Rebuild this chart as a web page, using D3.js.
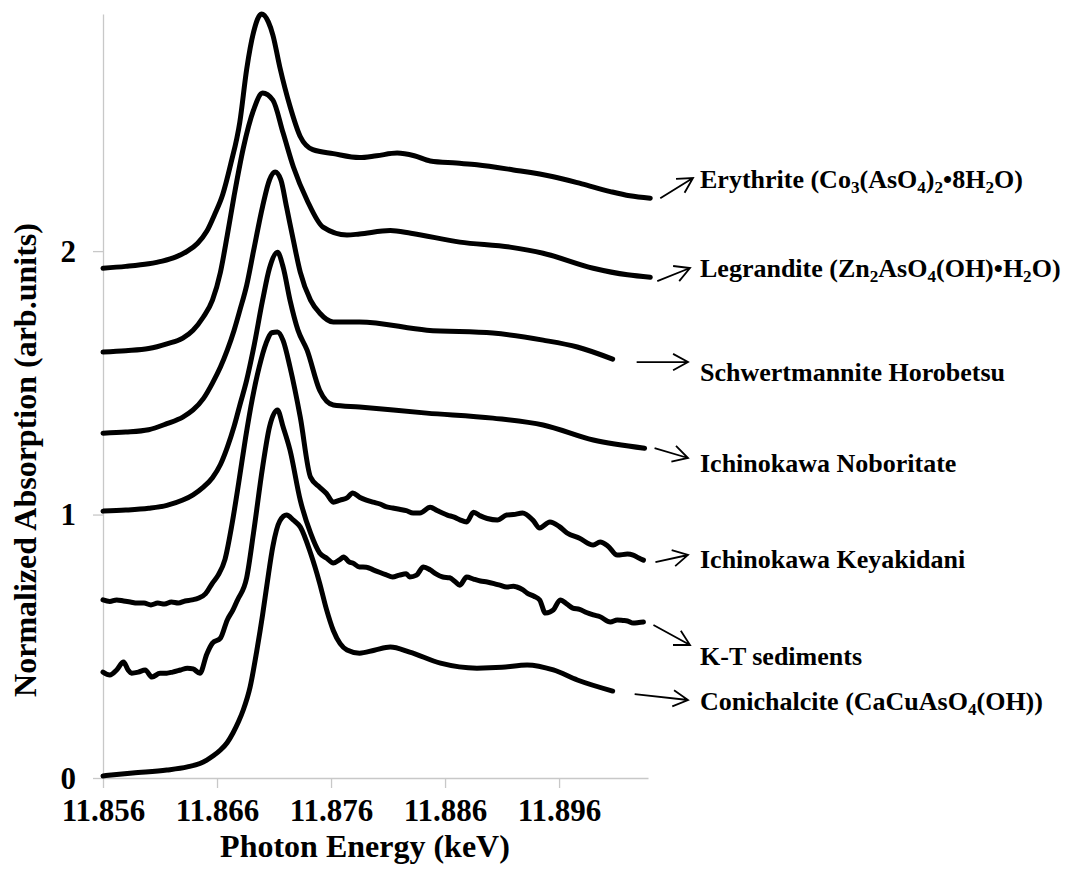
<!DOCTYPE html>
<html>
  <head>
    <meta charset="utf-8">
    <title>As K-edge XANES</title>
    <script src="https://d3js.org/d3.v7.min.js"></script>
    <style>
      body { margin: 0; background-color: white; }
      text { font-family: "Liberation Serif", "Times New Roman", serif; font-weight: bold; fill: black; }
    </style>
  </head>
  <body>
    <svg id="canvas" width="1075" height="869"></svg>

    <script>
      // photon energy (keV), normalized absorption (stacked with offsets as in the figure)
      const erythrite = [
        [11.8560, 1.935], [11.8580, 1.942], [11.8600, 1.952], [11.8612, 1.962], [11.8624, 1.978],
        [11.8634, 2.000], [11.8643, 2.030], [11.8651, 2.075], [11.8658, 2.140], [11.8665, 2.215],
        [11.8672, 2.330], [11.8680, 2.490], [11.8686, 2.690], [11.8692, 2.830], [11.8699, 2.900],
        [11.8705, 2.870], [11.8709, 2.820], [11.8715, 2.700], [11.8724, 2.550], [11.8733, 2.435],
        [11.8744, 2.385], [11.8762, 2.370], [11.8785, 2.355], [11.8800, 2.362], [11.8818, 2.372],
        [11.8833, 2.362], [11.8847, 2.342], [11.8870, 2.334], [11.8888, 2.328], [11.8920, 2.308],
        [11.8955, 2.282], [11.8980, 2.255], [11.9005, 2.226], [11.9022, 2.210], [11.9040, 2.201]
      ]
      const legrandite = [
        [11.8560, 1.617], [11.8580, 1.622], [11.8600, 1.630], [11.8616, 1.648], [11.8630, 1.670],
        [11.8639, 1.700], [11.8648, 1.750], [11.8656, 1.814], [11.8663, 1.920], [11.8669, 2.060],
        [11.8675, 2.210], [11.8683, 2.390], [11.8692, 2.535], [11.8700, 2.600], [11.8709, 2.573],
        [11.8718, 2.448], [11.8727, 2.319], [11.8739, 2.193], [11.8753, 2.091], [11.8774, 2.061],
        [11.8785, 2.065], [11.8812, 2.078], [11.8830, 2.068], [11.8873, 2.034], [11.8917, 2.015],
        [11.8946, 1.992], [11.8990, 1.935], [11.9020, 1.910], [11.9040, 1.901]
      ]
      const schwertmannite = [
        [11.8560, 1.309], [11.8580, 1.313], [11.8600, 1.322], [11.8616, 1.345], [11.8630, 1.370],
        [11.8639, 1.397], [11.8648, 1.440], [11.8656, 1.499], [11.8663, 1.560], [11.8669, 1.624],
        [11.8675, 1.700], [11.8680, 1.775], [11.8686, 1.870], [11.8692, 2.000], [11.8700, 2.170],
        [11.8706, 2.270], [11.8711, 2.300], [11.8716, 2.270], [11.8721, 2.167], [11.8727, 2.040],
        [11.8733, 1.920], [11.8742, 1.814], [11.8750, 1.765], [11.8762, 1.731], [11.8785, 1.731],
        [11.8844, 1.700], [11.8902, 1.689], [11.8946, 1.662], [11.8976, 1.636], [11.9007, 1.590]
      ]
      const noboritate = [
        [11.8560, 1.013], [11.8580, 1.017], [11.8600, 1.024], [11.8616, 1.035], [11.8630, 1.055],
        [11.8639, 1.075], [11.8648, 1.104], [11.8656, 1.140], [11.8663, 1.190], [11.8669, 1.255],
        [11.8675, 1.335], [11.8680, 1.415], [11.8686, 1.510], [11.8692, 1.630], [11.8700, 1.814],
        [11.8706, 1.935], [11.8713, 1.996], [11.8718, 1.939], [11.8724, 1.814], [11.8731, 1.700],
        [11.8739, 1.624], [11.8750, 1.472], [11.8762, 1.416], [11.8785, 1.408], [11.8844, 1.385],
        [11.8902, 1.366], [11.8946, 1.340], [11.8990, 1.283], [11.9035, 1.252]
      ]
      const keyakidani = [
        [11.8560, 0.676], [11.8566, 0.670], [11.8572, 0.676], [11.8578, 0.672], [11.8584, 0.668],
        [11.8590, 0.664], [11.8596, 0.664], [11.8602, 0.657], [11.8608, 0.664], [11.8614, 0.660],
        [11.8620, 0.668], [11.8626, 0.664], [11.8632, 0.672], [11.8638, 0.676], [11.8644, 0.683],
        [11.8650, 0.700], [11.8656, 0.740], [11.8661, 0.770], [11.8667, 0.830], [11.8673, 0.960],
        [11.8679, 1.120], [11.8685, 1.290], [11.8691, 1.440], [11.8697, 1.560], [11.8703, 1.650],
        [11.8708, 1.690], [11.8713, 1.693], [11.8718, 1.660], [11.8724, 1.560], [11.8733, 1.370],
        [11.8742, 1.142], [11.8750, 1.104], [11.8756, 1.080], [11.8762, 1.047], [11.8768, 1.055],
        [11.8774, 1.063], [11.8779, 1.082], [11.8785, 1.066], [11.8791, 1.055], [11.8797, 1.047],
        [11.8803, 1.040], [11.8808, 1.030], [11.8814, 1.025], [11.8820, 1.020], [11.8826, 1.015],
        [11.8832, 1.006], [11.8838, 1.006], [11.8847, 1.028], [11.8853, 1.015], [11.8862, 0.998],
        [11.8868, 0.990], [11.8873, 0.980], [11.8879, 0.972], [11.8885, 1.009], [11.8891, 0.995],
        [11.8897, 0.985], [11.8906, 0.979], [11.8914, 0.998], [11.8920, 1.000], [11.8928, 1.006],
        [11.8937, 0.979], [11.8943, 0.949], [11.8952, 0.972], [11.8960, 0.955], [11.8967, 0.930],
        [11.8978, 0.910], [11.8990, 0.884], [11.8996, 0.896], [11.9003, 0.880], [11.9011, 0.846],
        [11.9020, 0.850], [11.9025, 0.846], [11.9030, 0.835], [11.9034, 0.827]
      ]
      const ktSediments = [
        [11.8560, 0.402], [11.8566, 0.391], [11.8572, 0.410], [11.8578, 0.440], [11.8582, 0.410],
        [11.8585, 0.398], [11.8591, 0.402], [11.8597, 0.410], [11.8603, 0.383], [11.8610, 0.398],
        [11.8616, 0.398], [11.8621, 0.402], [11.8628, 0.410], [11.8634, 0.417], [11.8639, 0.414],
        [11.8645, 0.398], [11.8651, 0.470], [11.8656, 0.512], [11.8663, 0.531], [11.8669, 0.600],
        [11.8674, 0.638], [11.8678, 0.676], [11.8686, 0.760], [11.8692, 0.930], [11.8700, 1.180],
        [11.8706, 1.332], [11.8713, 1.397], [11.8718, 1.332], [11.8724, 1.245], [11.8733, 1.055],
        [11.8742, 0.930], [11.8750, 0.854], [11.8756, 0.835], [11.8762, 0.816], [11.8768, 0.830],
        [11.8771, 0.839], [11.8776, 0.820], [11.8779, 0.816], [11.8785, 0.801], [11.8791, 0.800],
        [11.8797, 0.790], [11.8803, 0.780], [11.8808, 0.772], [11.8814, 0.763], [11.8820, 0.770],
        [11.8826, 0.775], [11.8829, 0.763], [11.8835, 0.770], [11.8841, 0.801], [11.8847, 0.790],
        [11.8852, 0.775], [11.8858, 0.763], [11.8864, 0.760], [11.8869, 0.745], [11.8873, 0.732],
        [11.8879, 0.763], [11.8885, 0.755], [11.8891, 0.748], [11.8897, 0.744], [11.8903, 0.738],
        [11.8908, 0.732], [11.8914, 0.725], [11.8920, 0.728], [11.8923, 0.725], [11.8928, 0.715],
        [11.8932, 0.702], [11.8938, 0.690], [11.8943, 0.676], [11.8948, 0.626], [11.8952, 0.630],
        [11.8955, 0.638], [11.8961, 0.676], [11.8967, 0.660], [11.8972, 0.645], [11.8978, 0.640],
        [11.8984, 0.628], [11.8990, 0.619], [11.8996, 0.612], [11.9005, 0.592], [11.9011, 0.600],
        [11.9016, 0.598], [11.9020, 0.596], [11.9025, 0.588], [11.9030, 0.590], [11.9034, 0.592]
      ]
      const conichalcite = [
        [11.8560, 0.008], [11.8586, 0.019], [11.8616, 0.030], [11.8634, 0.042], [11.8645, 0.055],
        [11.8651, 0.068], [11.8657, 0.085], [11.8663, 0.106], [11.8669, 0.135], [11.8674, 0.171],
        [11.8679, 0.215], [11.8683, 0.258], [11.8689, 0.345], [11.8695, 0.486], [11.8700, 0.620],
        [11.8704, 0.740], [11.8709, 0.880], [11.8715, 0.975], [11.8721, 0.998], [11.8727, 0.979],
        [11.8733, 0.953], [11.8742, 0.854], [11.8750, 0.740], [11.8756, 0.640], [11.8762, 0.560],
        [11.8768, 0.510], [11.8774, 0.486], [11.8785, 0.474], [11.8798, 0.485], [11.8812, 0.497],
        [11.8829, 0.478], [11.8856, 0.436], [11.8888, 0.417], [11.8910, 0.420], [11.8932, 0.429],
        [11.8955, 0.410], [11.8976, 0.372], [11.9007, 0.330]
      ]

      const series = [erythrite, legrandite, schwertmannite, noboritate, keyakidani, ktSediments, conichalcite]
      // "_n" marks a subscript digit
      const seriesNames = [
        'Erythrite (Co_3(AsO_4)_2•8H_2O)',
        'Legrandite (Zn_2AsO_4(OH)•H_2O)',
        'Schwertmannite Horobetsu',
        'Ichinokawa Noboritate',
        'Ichinokawa Keyakidani',
        'K-T sediments',
        'Conichalcite (CaCuAsO_4(OH))'
      ]
      const xTicks = [11.856, 11.866, 11.876, 11.886, 11.896]
      const yTicks = [0, 1, 2]

      // annotation layout: arrow start offset from the curve end, arrow tip, label baseline
      const labelLayout = [
        { dx: 10, dy: 0, tip: [693, 178], base: 188 },
        { dx: 7, dy: 4, tip: [690, 268], base: 277 },
        { dx: 24, dy: 3, tip: [688, 362], base: 381 },
        { dx: 10, dy: 0, tip: [688, 458], base: 472 },
        { dx: 12, dy: 2, tip: [688, 555], base: 568 },
        { dx: 10, dy: 3, tip: [690, 645], base: 665 },
        { dx: 22, dy: 3, tip: [688, 700], base: 710 }
      ]

      const svg = d3.select('#canvas')
      const plotLeft = 103, plotRight = 648, plotTop = 14, plotBottom = 778

      const x = d3.scaleLinear().domain([11.856, 11.9038]).range([plotLeft, plotRight])
      const y = d3.scaleLinear().domain([0, 2.9]).range([plotBottom, plotTop])

      // axes
      const xAxis = svg.append('g')
        .attr('transform', `translate(0, ${plotBottom})`)
        .call(d3.axisBottom(x).tickValues(xTicks).tickFormat(d3.format('.3f')).tickSize(10).tickSizeOuter(0))
      const yAxis = svg.append('g')
        .attr('transform', `translate(${plotLeft}, 0)`)
        .call(d3.axisLeft(y).tickValues(yTicks).tickFormat(d3.format('d')).tickSize(10).tickSizeOuter(0))

      svg.selectAll('.domain, .tick line')
        .attr('stroke', '#c8c8c8')
        .attr('stroke-width', 1.3)

      xAxis.selectAll('.tick text')
        .attr('font-family', null)
        .attr('font-size', 31)
        .attr('y', 43)
        .attr('dy', 0)
      yAxis.selectAll('.tick text')
        .attr('font-family', null)
        .attr('font-size', 31)
        .attr('x', -27)
        .attr('dy', 10)
      svg.selectAll('.tick text').attr('fill', 'black')

      svg.append('text')
        .attr('x', 365)
        .attr('y', 857)
        .attr('text-anchor', 'middle')
        .attr('font-size', 32)
        .text('Photon Energy (keV)')

      svg.append('text')
        .attr('transform', 'translate(36, 460) rotate(-90)')
        .attr('text-anchor', 'middle')
        .attr('font-size', 32)
        .text('Normalized Absorption (arb.units)')

      // spectra
      const line = d3.line()
        .x(d => x(d[0]))
        .y(d => y(d[1]))
        .curve(d3.curveMonotoneX)

      svg.append('g').selectAll('path')
        .data(series)
        .join('path')
        .attr('d', line)
        .attr('fill', 'none')
        .attr('stroke', 'black')
        .attr('stroke-width', 5)
        .attr('stroke-linejoin', 'round')
        .attr('stroke-linecap', 'round')

      // labels with subscripts
      const addRichText = (sel, str, size) => {
        let shift = 0
        str.split(/_(\d)/).forEach((part, i) => {
          if (!part) return
          const sub = i % 2 === 1
          const target = sub ? 5 : 0
          sel.append('tspan')
            .attr('font-size', sub ? size * 0.66 : size)
            .attr('dy', target - shift)
            .text(part)
          shift = target
        })
      }

      const ann = svg.append('g')
      series.forEach((s, i) => {
        const lay = labelLayout[i]
        const end = s[s.length - 1]
        const x0 = x(end[0]) + lay.dx
        const y0 = y(end[1]) + lay.dy
        const [x1, y1] = lay.tip
        const ang = Math.atan2(y1 - y0, x1 - x0)
        const headLen = 17, headAng = 0.5
        ann.append('path')
          .attr('d', `M${x0},${y0}L${x1},${y1}` +
            `M${x1 - headLen * Math.cos(ang - headAng)},${y1 - headLen * Math.sin(ang - headAng)}L${x1},${y1}` +
            `L${x1 - headLen * Math.cos(ang + headAng)},${y1 - headLen * Math.sin(ang + headAng)}`)
          .attr('fill', 'none')
          .attr('stroke', 'black')
          .attr('stroke-width', 1.8)

        const t = ann.append('text')
          .attr('x', 700)
          .attr('y', lay.base)
        addRichText(t, seriesNames[i], 26)
      })
    </script>
  </body>
</html>
